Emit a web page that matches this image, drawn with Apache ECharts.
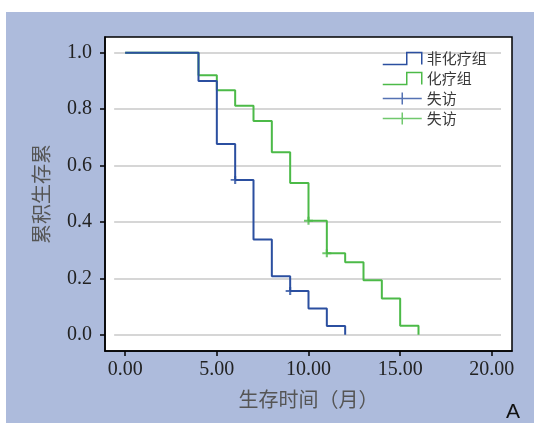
<!DOCTYPE html>
<html>
<head>
<meta charset="utf-8">
<script src="https://cdn.jsdelivr.net/npm/echarts@6/dist/echarts.min.js"></script>
<style>
  html, body { margin: 0; padding: 0; background: #fff; }
  #chart { width: 534px; height: 423px; }
</style>
</head>
<body>
<div id="chart"></div>
<script>
  // 非化疗组
  const blueTimes = [0, 4, 5, 6, 7, 8, 9, 10, 11, 12];
  const blueSurv = [1, 0.9, 0.676, 0.549, 0.338, 0.207, 0.155, 0.093, 0.031, 0];
  const blueCensorT = [6, 9];
  const blueCensorS = [0.549, 0.155];
  // 化疗组
  const greenTimes = [0, 4, 5, 6, 7, 8, 9, 10, 11, 12, 13, 14, 15, 16];
  const greenSurv = [1, 0.92, 0.867, 0.812, 0.758, 0.647, 0.538, 0.404, 0.289, 0.257, 0.193, 0.128, 0.032, 0];
  const greenCensorT = [10, 11];
  const greenCensorS = [0.404, 0.289];

  const xTicks = [0, 5, 10, 15, 20];
  const yTicks = [0, 0.2, 0.4, 0.6, 0.8, 1.0];

  const BLUE = '#2b4fa0';
  const GREEN = '#4cba48';
  const stepIcon = 'path://M0,12L24,12L24,0L39,0L39,12';
  const crossIcon = 'path://M0,6L39,6M19.5,0L19.5,12';
  const censorSym = 'path://M0,4L9,4M4.5,0L4.5,8';

  const zip = (a, b) => a.map((v, i) => [v, b[i]]);

  const myChart = echarts.init(document.getElementById('chart'));

  const option = {
    animation: false,
    graphic: [
      { type: 'rect', z: -10, silent: true, shape: { x: 6, y: 12, width: 528, height: 411 }, style: { fill: '#adbbdc' } },
      { type: 'text', left: 506, top: 402, style: { text: 'A', font: '21px "Liberation Sans"', fill: '#111' } }
    ],
    grid: {
      left: 105, top: 37, right: 22, bottom: 72,
      show: true, backgroundColor: '#fff', borderColor: '#000', borderWidth: 1.5
    },
    legend: {
      orient: 'vertical',
      left: 382, top: 51, padding: 0,
      itemWidth: 39, itemHeight: 12, itemGap: 5,
      textStyle: { fontFamily: 'Noto Sans CJK SC', fontSize: 15, color: '#3a3a3a' },
      data: [
        { name: '非化疗组', icon: stepIcon, itemStyle: { color: 'rgba(0,0,0,0)', borderColor: BLUE, borderWidth: 1.5 } },
        { name: '化疗组', icon: stepIcon, itemStyle: { color: 'rgba(0,0,0,0)', borderColor: GREEN, borderWidth: 1.5 } },
        { name: '失访', icon: crossIcon, itemStyle: { color: 'rgba(0,0,0,0)', borderColor: BLUE, borderWidth: 1.5 } },
        { name: '失访 ', icon: crossIcon, itemStyle: { color: 'rgba(0,0,0,0)', borderColor: GREEN, borderWidth: 1.5 } }
      ]
    },
    xAxis: {
      type: 'value',
      min: -1.1, max: 21.1,
      name: '生存时间（月）',
      nameLocation: 'middle',
      nameGap: 38,
      nameTextStyle: { fontFamily: 'Noto Sans CJK SC', fontSize: 20, color: '#555' },
      axisLine: { show: true, onZero: false, lineStyle: { color: '#000', width: 1.5 } },
      axisTick: { show: true, length: 5, customValues: xTicks, lineStyle: { color: '#000', width: 1.5 } },
      axisLabel: {
        customValues: xTicks, margin: 9,
        formatter: v => v.toFixed(2),
        fontFamily: 'Liberation Serif', fontSize: 20, color: '#222'
      },
      splitLine: { show: false }
    },
    yAxis: {
      type: 'value',
      min: -0.058, max: 1.056,
      name: '累积生存累',
      nameLocation: 'middle',
      nameGap: 54,
      nameTextStyle: { fontFamily: 'Noto Sans CJK SC', fontSize: 20, color: '#555' },
      axisLine: { show: true, onZero: false, lineStyle: { color: '#000', width: 1.5 } },
      axisTick: { show: true, length: 5, customValues: yTicks, lineStyle: { color: '#000', width: 1.5 } },
      axisLabel: {
        customValues: yTicks, margin: 13,
        formatter: v => v.toFixed(1),
        fontFamily: 'Liberation Serif', fontSize: 20, color: '#222'
      },
      splitLine: { show: false }
    },
    series: [
      {
        name: 'grid',
        type: 'line',
        data: [],
        z: 1,
        markLine: {
          z: 1,
          silent: true,
          symbol: 'none',
          label: { show: false },
          lineStyle: { color: '#d6d6d6', width: 2, type: 'solid' },
          data: yTicks.map(v => [{ coord: [-0.6, v] }, { coord: [20.5, v] }])
        }
      },
      {
        name: '化疗组',
        type: 'line',
        step: 'end',
        symbol: 'none',
        z: 3,
        color: GREEN,
        lineStyle: { color: GREEN, width: 2 },
        data: zip(greenTimes, greenSurv)
      },
      {
        name: '非化疗组',
        type: 'line',
        step: 'end',
        symbol: 'none',
        z: 4,
        color: BLUE,
        lineStyle: { color: BLUE, width: 2 },
        data: zip(blueTimes, blueSurv)
      },
      {
        name: '失访',
        type: 'scatter',
        symbol: censorSym,
        symbolSize: [9, 8],
        z: 5,
        itemStyle: { color: 'rgba(0,0,0,0)', borderColor: BLUE, borderWidth: 2 },
        data: zip(blueCensorT, blueCensorS)
      },
      {
        name: '失访 ',
        type: 'scatter',
        symbol: censorSym,
        symbolSize: [9, 8],
        z: 5,
        itemStyle: { color: 'rgba(0,0,0,0)', borderColor: GREEN, borderWidth: 2 },
        data: zip(greenCensorT, greenCensorS)
      }
    ]
  };

  myChart.setOption(option);
</script>
</body>
</html>
